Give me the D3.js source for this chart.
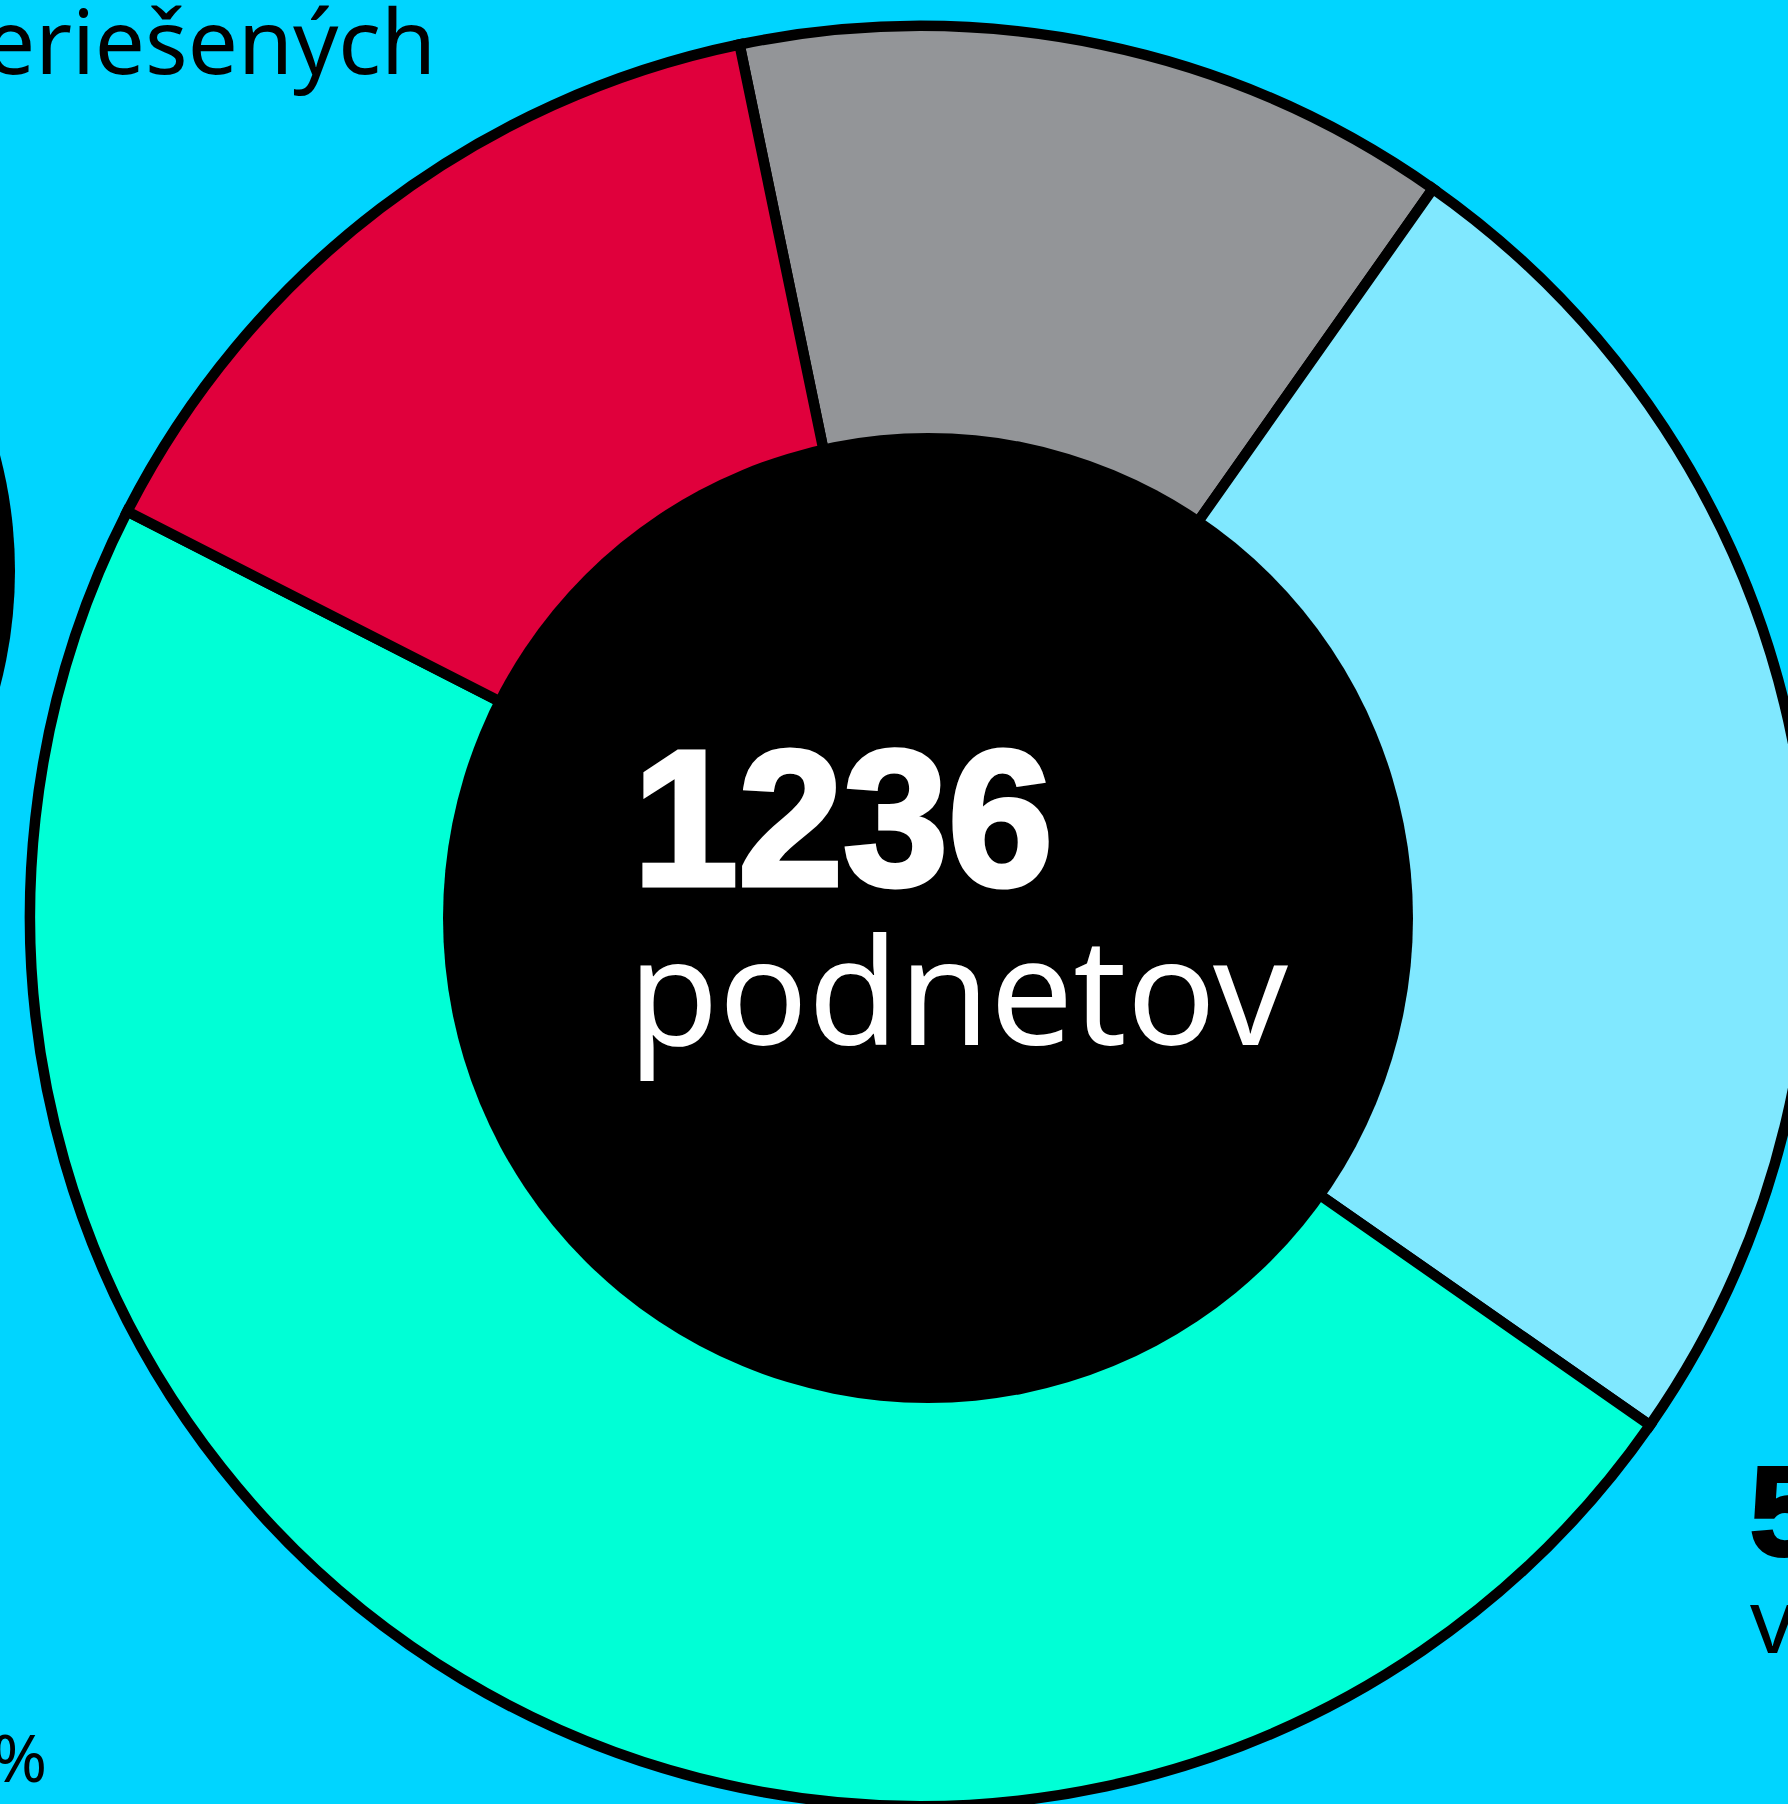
<!DOCTYPE html>
<html>
<head>
<meta charset="utf-8">
<script src="https://cdn.jsdelivr.net/npm/d3@7"></script>
<style>
  html, body { margin: 0; padding: 0; background: #00d5ff; }
  svg { display: block; }
</style>
</head>
<body>
<div class="svgContainer"></div>
<script>
// categories of podnety, in drawing order (clockwise from the top-left slice)
const categories = ['postúpené', 'v riešení', 'vyriešené', 'neriešené'];
const counts = [161, 308, 591, 176];
const colors = ['#939598', '#80e8ff', '#00ffd6', '#e0003c'];
const total = 1236;

// texts of the neighbouring labels that are cut by the frame
const centerLabel = 'podnetov';
const topLabel = 'neriešených';
const rightValue = '591';
const rightLabel = 'vyriešených';
const leftPercent = '48 %';

const width = 1788;
const height = 1804;
const cx = 920;
const cy = 916;
const outerR = 890;
const innerR = 460;
const holeR = 485;

const data = categories.map((c, i) => ({name: c, value: counts[i], color: colors[i]}));

const svg = d3.select('.svgContainer').append('svg')
  .attr('width', width)
  .attr('height', height);

svg.append('rect')
  .attr('width', width)
  .attr('height', height)
  .attr('fill', '#00d5ff');

// black centre of the neighbouring chart, peeking in at the left edge
svg.append('circle')
  .attr('cx', -441)
  .attr('cy', 571)
  .attr('r', 456)
  .attr('fill', '#000');

const start = -11.7 * Math.PI / 180;
const pie = d3.pie()
  .sort(null)
  .value(d => d.value)
  .startAngle(start)
  .endAngle(start + 2 * Math.PI);

const arc = d3.arc()
  .innerRadius(innerR)
  .outerRadius(outerR);

const g = svg.append('g')
  .attr('transform', 'translate(' + cx + ',' + cy + ')');

g.selectAll('path.slice')
  .data(pie(data))
  .enter()
  .append('path')
  .attr('class', 'slice')
  .attr('d', arc)
  .attr('fill', d => d.data.color)
  .attr('stroke', '#000')
  .attr('stroke-width', 10.5);

// black hole in the middle
svg.append('circle')
  .attr('cx', 928)
  .attr('cy', 918)
  .attr('r', holeR)
  .attr('fill', '#000');

// centre texts
svg.append('text')
  .attr('x', 633)
  .attr('y', 885)
  .attr('font-family', '"Liberation Sans", Arial, sans-serif')
  .attr('font-weight', 'bold')
  .attr('font-size', 193)
  .attr('fill', '#fff')
  .attr('stroke', '#fff')
  .attr('stroke-width', 5)
  .attr('textLength', 420)
  .attr('lengthAdjust', 'spacingAndGlyphs')
  .text(d3.sum(counts) === total ? total : d3.sum(counts));

svg.append('text')
  .attr('x', 628)
  .attr('y', 1045)
  .attr('font-family', '"Noto Sans", "Open Sans", sans-serif')
  .attr('font-size', 148)
  .attr('fill', '#fff')
  .attr('textLength', 660)
  .attr('lengthAdjust', 'spacingAndGlyphs')
  .text(centerLabel);

// cut labels around the frame
svg.append('text')
  .attr('x', 436)
  .attr('y', 74)
  .attr('text-anchor', 'end')
  .attr('font-family', '"Noto Sans", "Open Sans", sans-serif')
  .attr('font-size', 89)
  .attr('fill', '#000')
  .text(topLabel);

svg.append('text')
  .attr('x', 1750)
  .attr('y', 1555)
  .attr('font-family', '"Liberation Sans", Arial, sans-serif')
  .attr('font-weight', 'bold')
  .attr('font-size', 126)
  .attr('fill', '#000')
  .attr('stroke', '#000')
  .attr('stroke-width', 4)
  .text(rightValue);

svg.append('text')
  .attr('x', 1750)
  .attr('y', 1653)
  .attr('font-family', '"Noto Sans", "Open Sans", sans-serif')
  .attr('font-size', 89)
  .attr('fill', '#000')
  .text(rightLabel);

svg.append('text')
  .attr('x', 47)
  .attr('y', 1782)
  .attr('text-anchor', 'end')
  .attr('font-family', '"Noto Sans", "Open Sans", sans-serif')
  .attr('font-size', 66)
  .attr('fill', '#000')
  .text(leftPercent);
</script>
</body>
</html>
